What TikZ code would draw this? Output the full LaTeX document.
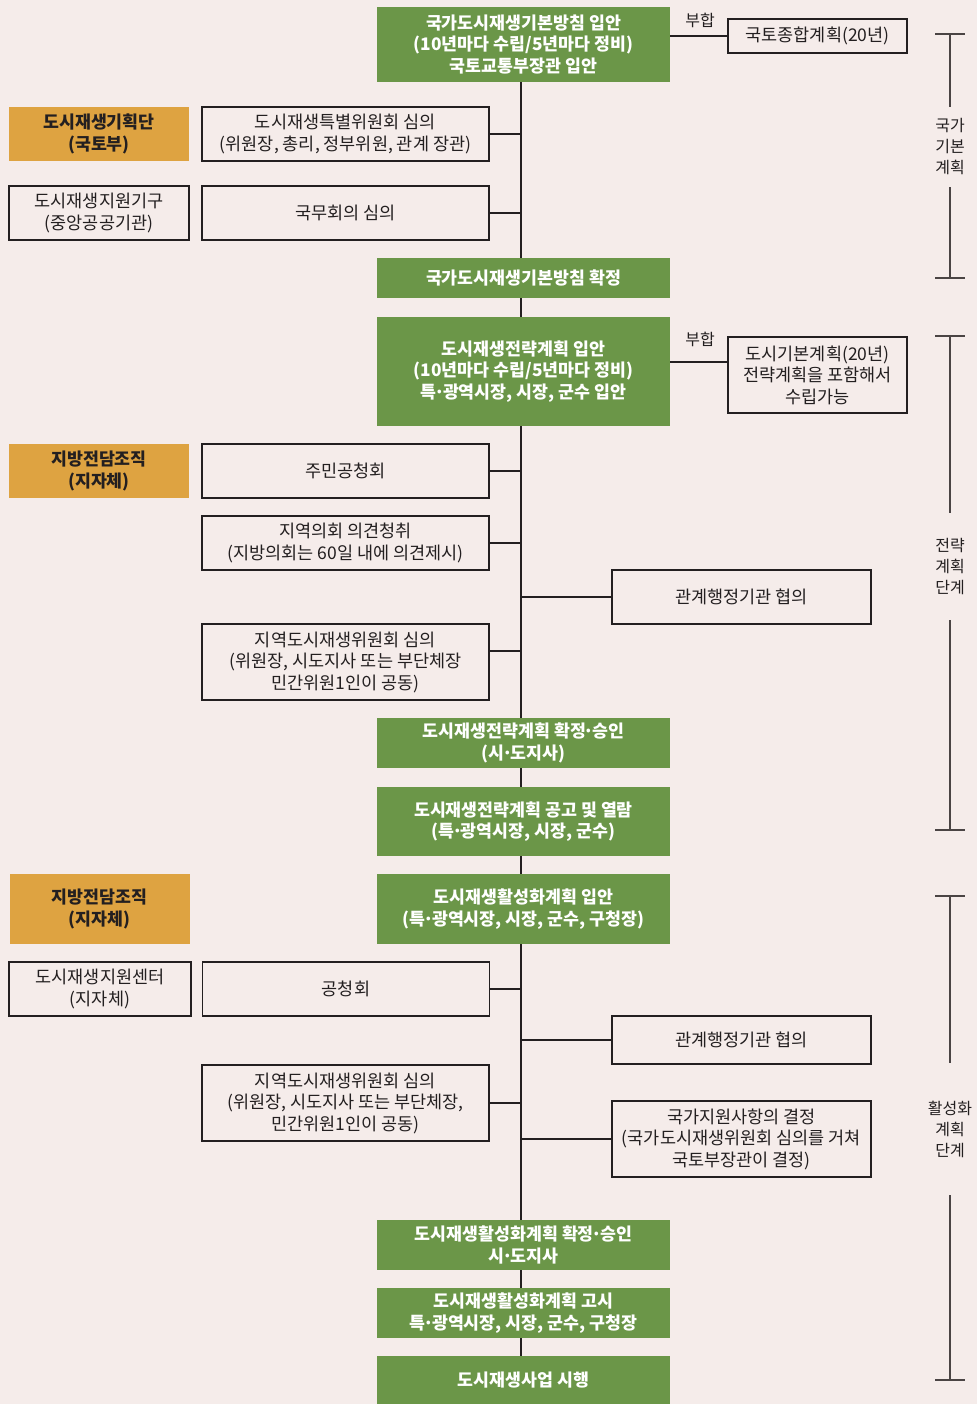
\documentclass[tikz,border=0pt]{standalone}
\usepackage{fontspec}
\setmainfont{Noto Sans CJK KR}
\definecolor{paper}{HTML}{F5ECEA}
\definecolor{kgreen}{HTML}{6B9648}
\definecolor{korange}{HTML}{DEA341}
\definecolor{ink}{HTML}{231F20}
\definecolor{rule}{HTML}{4A4444}
% narrow middle dot between words
\newcommand\ptdot{\kern-.12em·\kern-.12em}
\begin{document}
\begin{tikzpicture}[x=1pt,y=-1pt,
  base/.style={inner sep=0pt, align=center, text=ink, font=\fontsize{17.5}{21.5}\selectfont},
  greenbox/.style={base, fill=kgreen, text=white, font=\fontsize{17.3}{21.5}\selectfont\bfseries, minimum width=293},
  orangebox/.style={base, fill=korange, font=\fontsize{17.3}{21.5}\selectfont\bfseries, minimum width=180, minimum height=54},
  whitebox/.style={base, draw=ink, line width=1.8pt, fill=paper, minimum width=287, minimum height=54},
  sidebox/.style={whitebox, minimum width=180},
  rightbox/.style={whitebox, minimum width=259},
  tag/.style={base, font=\fontsize{16}{18}\selectfont},
  phase/.style={base, font=\fontsize{16}{21}\selectfont},
  link/.style={draw=ink, line width=2.8pt},
  brack/.style={draw=rule, line width=1.2pt}]
\useasboundingbox (0,0) rectangle (977,1404);
\fill[paper] (0,0) rectangle (977,1404);

% national basic policy
\node[greenbox, minimum height=75] (g1) at (523.5,44.5) {국가도시재생기본방침 입안\\(10년마다 수립/5년마다 정비)\\국토교통부장관 입안};
\node[whitebox, minimum width=179, minimum height=34] (n1) at (817.5,36) {국토종합계획(20년)};
\node[tag] (h1) at (700,20) {부합};
\node[orangebox] (o1) at (99,134) {도시재생기획단\\(국토부)};
\node[whitebox] (w1) at (345.5,134) {도시재생특별위원회 심의\\(위원장, 총리, 정부위원, 관계 장관)};
\node[sidebox] (l1) at (99,213) {도시재생지원기구\\(중앙공공기관)};
\node[whitebox] (w2) at (345.5,213) {국무회의 심의};
\node[greenbox, minimum height=40] (g2) at (523.5,278) {국가도시재생기본방침 확정};

% strategic plan
\node[greenbox, minimum height=109] (g3) at (523.5,371.5) {도시재생전략계획 입안\\(10년마다 수립/5년마다 정비)\\특\ptdot 광역시장, 시장, 군수 입안};
\node[tag] (h2) at (700,339) {부합};
\node[whitebox, minimum width=179, minimum height=76] (n2) at (817.5,375) {도시기본계획(20년)\\전략계획을 포함해서\\수립가능};
\node[orangebox] (o2) at (99,471) {지방전담조직\\(지자체)};
\node[whitebox] (w3) at (345.5,471) {주민공청회};
\node[whitebox] (w4) at (345.5,543) {지역의회 의견청취\\(지방의회는 60일 내에 의견제시)};
\node[rightbox] (r1) at (741.5,597) {관계행정기관 협의};
\node[whitebox, minimum height=76] (w5) at (345.5,662) {지역도시재생위원회 심의\\(위원장, 시도지사 또는 부단체장\\민간위원1인이 공동)};
\node[greenbox, minimum height=50] (g4) at (523.5,743) {도시재생전략계획 확정\ptdot 승인\\(시\ptdot 도지사)};
\node[greenbox, minimum height=69] (g5) at (523.5,821.5) {도시재생전략계획 공고 및 열람\\(특\ptdot 광역시장, 시장, 군수)};

% activation plan
\node[orangebox, minimum height=70] (o3) at (99.5,909) {지방전담조직\\(지자체)};
\node[greenbox, minimum height=70] (g6) at (523.5,909) {도시재생활성화계획 입안\\(특\ptdot 광역시장, 시장, 군수, 구청장)};
\node[sidebox, minimum width=182] (l2) at (100,989) {도시재생지원센터\\(지자체)};
\node[whitebox] (w6) at (346,989) {공청회};
\node[rightbox, minimum height=48] (r2) at (741.5,1040) {관계행정기관 협의};
\node[whitebox, minimum height=76] (w7) at (345.5,1103) {지역도시재생위원회 심의\\(위원장, 시도지사 또는 부단체장,\\민간위원1인이 공동)};
\node[rightbox, minimum height=76] (r3) at (741.5,1139) {국가지원사항의 결정\\(국가도시재생위원회 심의를 거쳐\\국토부장관이 결정)};
\node[greenbox, minimum height=50] (g7) at (523.5,1245) {도시재생활성화계획 확정\ptdot 승인\\시\ptdot 도지사};
\node[greenbox, minimum height=50] (g8) at (523.5,1313) {도시재생활성화계획 고시\\특\ptdot 광역시장, 시장, 군수, 구청장};
\node[greenbox, minimum height=48] (g9) at (523.5,1380) {도시재생사업 시행};

% main trunk
\coordinate (t) at (521,0);
\foreach \a/\b in {g1/g2, g2/g3, g3/g4, g4/g5, g5/g6, g6/g7, g7/g8, g8/g9}
  \draw[link] (\a.south -| t) -- (\b.north -| t);

% branches to the trunk
\foreach \n in {w1, w2, w3, w4, w6, w7}
  \draw[link] (\n.east) -- (\n.east -| t);
\draw[link] ([yshift=11pt]w5.east) -- ([yshift=11pt]w5.east -| t);
\foreach \n in {r1, r2, r3}
  \draw[link] (\n.west) -- (\n.west -| t);
\draw[link] (n1.west) -- (n1.west -| g1.east);
\draw[link] ([yshift=13pt]n2.west) -- ([yshift=13pt]n2.west -| g3.east);

% phase brackets
\node[phase, minimum height=80] (p1) at (950,147) {국가\\기본\\계획};
\node[phase, minimum height=107] (p2) at (950,566.5) {전략\\계획\\단계};
\node[phase, minimum height=132] (p3) at (950,1129) {활성화\\계획\\단계};
\coordinate (k1a) at (950,34);   \coordinate (k1b) at (950,278);
\coordinate (k2a) at (950,336);  \coordinate (k2b) at (950,830);
\coordinate (k3a) at (950,896);  \coordinate (k3b) at (950,1380);
\foreach \i in {1,2,3} {
  \draw[brack] (k\i a) -- (p\i.north) (p\i.south) -- (k\i b);
  \draw[brack] ([xshift=-15pt]k\i a) -- ([xshift=15pt]k\i a);
  \draw[brack] ([xshift=-15pt]k\i b) -- ([xshift=15pt]k\i b);
}
\end{tikzpicture}
\end{document}
